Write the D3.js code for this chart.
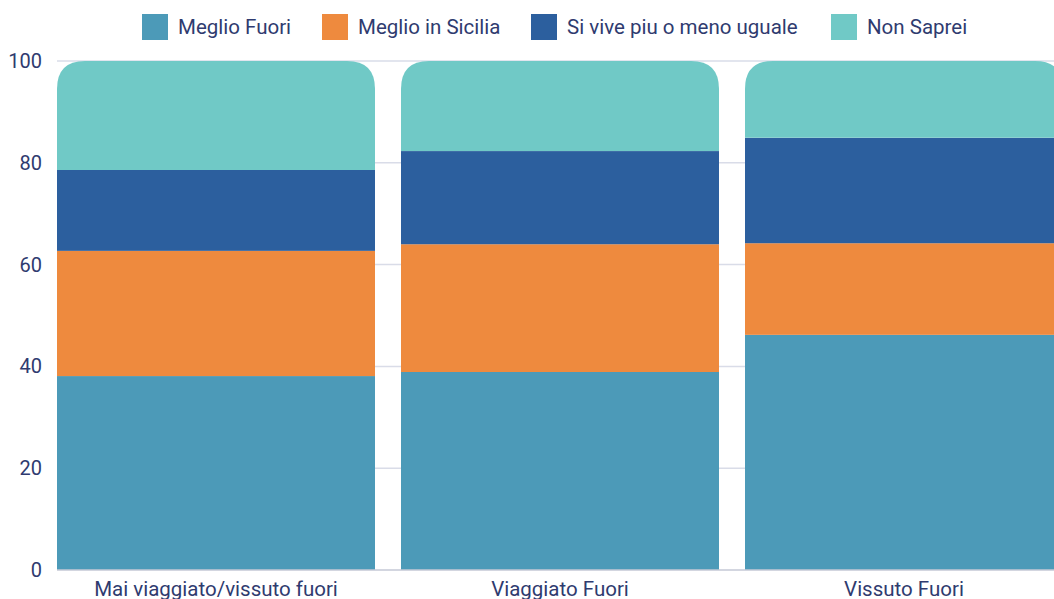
<!DOCTYPE html>
<html>
<head>
<meta charset="utf-8">
<script src="https://cdn.jsdelivr.net/npm/d3@7"></script>
<style>
  body { margin: 0; background: #fff; }
  svg { display: block; font-family: "Roboto", "Inter", sans-serif; }
</style>
</head>
<body>
<div id="chart"></div>
<script>
// categories and series (percent)
var categories = ["Mai viaggiato/vissuto fuori", "Viaggiato Fuori", "Vissuto Fuori"];
var seriesNames = ["Meglio Fuori", "Meglio in Sicilia", "Si vive piu o meno uguale", "Non Saprei"];
var meglioFuori = [38.1, 38.9, 46.2];
var meglioSicilia = [24.6, 25.1, 18.0];
var siViveUguale = [15.9, 18.3, 20.7];
var nonSaprei = [21.4, 17.7, 15.1];
var yTicks = [0, 20, 40, 60, 80, 100];
var colors = ["#4c9ab8", "#ee8a3e", "#2c5f9e", "#70c9c6"];

var width = 1054, height = 599;
var margin = {top: 61, left: 57, bottom: 29};

var svg = d3.select("#chart").append("svg")
    .attr("width", width)
    .attr("height", height);

// scales
var x = d3.scaleBand()
    .domain(categories)
    .range([margin.left, margin.left + 1006])
    .paddingInner(26 / 344)
    .paddingOuter(0);

var y = d3.scaleLinear()
    .domain([0, 100])
    .range([height - margin.bottom, margin.top]);

// grid
svg.append("g").selectAll("line")
    .data(yTicks.filter(function(d) { return d > 0; }))
    .enter().append("line")
    .attr("x1", margin.left).attr("x2", width)
    .attr("y1", function(d) { return y(d); })
    .attr("y2", function(d) { return y(d); })
    .attr("stroke", "#d9dce8")
    .attr("stroke-width", 1.5);

// y tick labels
svg.append("g").selectAll("text")
    .data(yTicks)
    .enter().append("text")
    .attr("x", 42)
    .attr("y", function(d) { return y(d) + 7; })
    .attr("text-anchor", "end")
    .attr("fill", "#2f3b6f")
    .style("font-size", "20px")
    .text(function(d) { return d; });

// stacked data
var rows = categories.map(function(c, i) {
  return {cat: c, a: meglioFuori[i], b: meglioSicilia[i], c: siViveUguale[i], d: nonSaprei[i]};
});
var stack = d3.stack().keys(["a", "b", "c", "d"]);
var layers = stack(rows);

var r = 28;
function topRounded(x0, y0, w, h) {
  return "M" + x0 + "," + (y0 + h) +
    "V" + (y0 + r) +
    "Q" + x0 + "," + y0 + " " + (x0 + r) + "," + y0 +
    "H" + (x0 + w - r) +
    "Q" + (x0 + w) + "," + y0 + " " + (x0 + w) + "," + (y0 + r) +
    "V" + (y0 + h) + "Z";
}

layers.forEach(function(layer, li) {
  var g = svg.append("g").attr("fill", colors[li]);
  layer.forEach(function(d, i) {
    var x0 = x(categories[i]), w = x.bandwidth();
    var y0 = y(d[1]), h = y(d[0]) - y(d[1]);
    if (li === layers.length - 1) {
      g.append("path").attr("d", topRounded(x0, y0, w, h));
    } else {
      g.append("rect").attr("x", x0).attr("y", y0).attr("width", w).attr("height", h);
    }
  });
});

// baseline
svg.append("line")
    .attr("x1", margin.left).attr("x2", width)
    .attr("y1", y(0)).attr("y2", y(0))
    .attr("stroke", "#c4c8d6").attr("stroke-width", 1.5);

// x labels
svg.append("g").selectAll("text")
    .data(categories)
    .enter().append("text")
    .attr("x", function(d) { return x(d) + x.bandwidth() / 2; })
    .attr("y", 596)
    .attr("text-anchor", "middle")
    .attr("fill", "#2f3b6f")
    .style("font-size", "20.5px")
    .text(function(d) { return d; });

// legend
var legendX = [142, 322, 531, 831];
var legend = svg.append("g").selectAll("g")
    .data(seriesNames)
    .enter().append("g")
    .attr("transform", function(d, i) { return "translate(" + legendX[i] + ",14)"; });
legend.append("rect")
    .attr("width", 26).attr("height", 26)
    .attr("fill", function(d, i) { return colors[i]; });
legend.append("text")
    .attr("x", 36).attr("y", 20)
    .attr("fill", "#2f3b6f")
    .style("font-size", "20.5px")
    .text(function(d) { return d; });
</script>
</body>
</html>
